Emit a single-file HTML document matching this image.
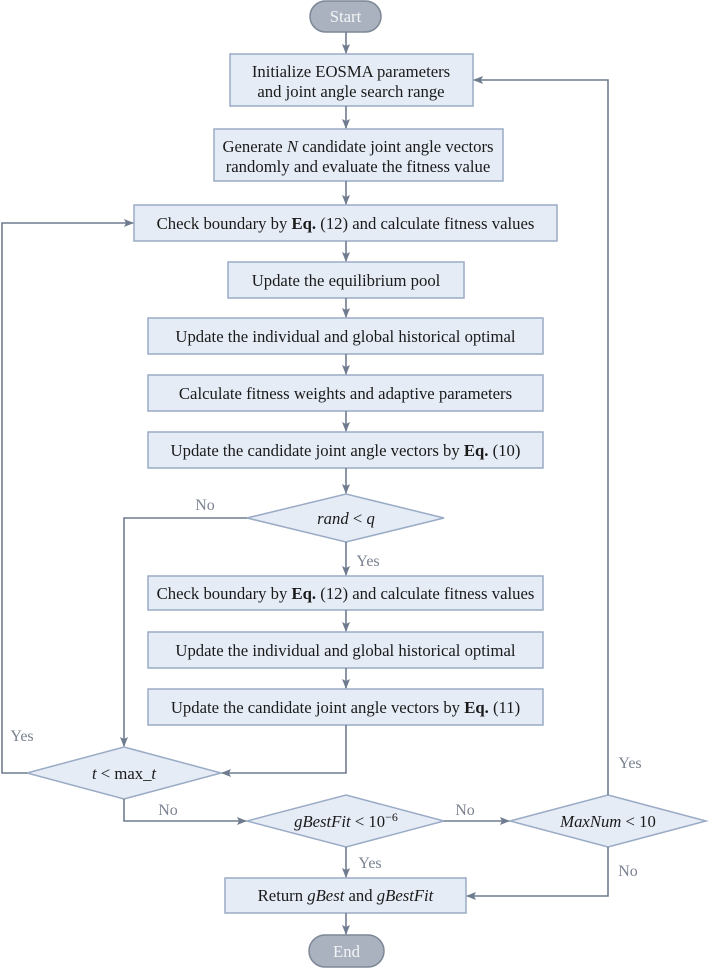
<!DOCTYPE html>
<html><head><meta charset="utf-8"><style>
html,body{margin:0;padding:0;background:#fff}
svg text{font-family:"Liberation Serif",serif;font-size:16.7px;fill:#1a1a1a}
.b{fill:#e6ecf6;stroke:#9aabc5;stroke-width:1.5}
.l{fill:none;stroke:#6f7c8f;stroke-width:1.6}
svg text.lab{fill:#7a8290;font-size:16px}
</style></head><body>
<svg width="709" height="968" viewBox="0 0 709 968" xmlns="http://www.w3.org/2000/svg">
<defs><marker id="a" markerWidth="10" markerHeight="10" refX="9" refY="5" orient="auto" markerUnits="userSpaceOnUse"><path d="M0,1 L10,5 L0,9 L2,5 z" fill="#6f7c8f"/></marker></defs>
<rect x="310" y="1" width="71" height="31" rx="15.5" fill="#a9b2be" stroke="#7d8796" stroke-width="1.5"/>
<text x="345.5" y="22" text-anchor="middle" style="fill:#f4f5f7">Start</text>
<rect class="b" x="230" y="54" width="243" height="52"/>
<text x="351" y="77" text-anchor="middle">Initialize EOSMA parameters</text>
<text x="351" y="97" text-anchor="middle">and joint angle search range</text>
<rect class="b" x="214" y="129" width="289" height="52"/>
<text x="358" y="152" text-anchor="middle">Generate <tspan font-style="italic">N</tspan> candidate joint angle vectors</text>
<text x="358" y="172" text-anchor="middle">randomly and evaluate the fitness value</text>
<rect class="b" x="134" y="205" width="423" height="36"/>
<text x="345.5" y="229" text-anchor="middle">Check boundary by <tspan font-weight="bold">Eq.</tspan> (12) and calculate fitness values</text>
<rect class="b" x="228" y="262" width="236" height="36"/>
<text x="346" y="286" text-anchor="middle">Update the equilibrium pool</text>
<rect class="b" x="148" y="318" width="395" height="36"/>
<text x="345.5" y="342" text-anchor="middle">Update the individual and global historical optimal</text>
<rect class="b" x="148" y="375" width="395" height="36"/>
<text x="345.5" y="399" text-anchor="middle">Calculate fitness weights and adaptive parameters</text>
<rect class="b" x="148" y="432" width="395" height="36"/>
<text x="345.5" y="456" text-anchor="middle">Update the candidate joint angle vectors by <tspan font-weight="bold">Eq.</tspan> (10)</text>
<polygon class="b" points="247,518 346,494 444,518 346,542"/>
<text x="346" y="524" text-anchor="middle" font-style="italic">rand <tspan font-style="normal">&lt;</tspan> q</text>
<rect class="b" x="148" y="576" width="395" height="34"/>
<text x="345.5" y="599" text-anchor="middle">Check boundary by <tspan font-weight="bold">Eq.</tspan> (12) and calculate fitness values</text>
<rect class="b" x="148" y="632" width="395" height="36"/>
<text x="345.5" y="656" text-anchor="middle">Update the individual and global historical optimal</text>
<rect class="b" x="148" y="689" width="395" height="36"/>
<text x="345.5" y="713" text-anchor="middle">Update the candidate joint angle vectors by <tspan font-weight="bold">Eq.</tspan> (11)</text>
<polygon class="b" points="27,773 124,747 221,773 124,799"/>
<text x="124" y="779" text-anchor="middle"><tspan font-style="italic">t</tspan> &lt; max_<tspan font-style="italic">t</tspan></text>
<polygon class="b" points="247,821 346,795 444,821 346,847"/>
<text x="346" y="827" text-anchor="middle"><tspan font-style="italic">gBestFit</tspan> &lt; 10<tspan dy="-6" font-size="12">−6</tspan></text>
<polygon class="b" points="510,821 608,795 706,821 608,847"/>
<text x="608" y="827" text-anchor="middle"><tspan font-style="italic">MaxNum</tspan> &lt; 10</text>
<rect class="b" x="225" y="878" width="241" height="35"/>
<text x="345.5" y="901" text-anchor="middle">Return <tspan font-style="italic">gBest</tspan> and <tspan font-style="italic">gBestFit</tspan></text>
<rect x="309" y="935" width="75" height="32" rx="16" fill="#a9b2be" stroke="#7d8796" stroke-width="1.5"/>
<text x="346.5" y="957" text-anchor="middle" style="fill:#f4f5f7">End</text>
<g class="l" marker-end="url(#a)">
<path d="M346,32 V53"/><path d="M346,106 V128"/><path d="M346,181 V204"/>
<path d="M346,241 V261"/><path d="M346,298 V317"/><path d="M346,354 V374"/>
<path d="M346,411 V431"/><path d="M346,468 V493"/><path d="M346,542 V575"/>
<path d="M346,610 V631"/><path d="M346,668 V688"/>
<path d="M346,725 V773 H222"/>
<path d="M247,518 H124 V746"/>
<path d="M27,773 H2 V223 H133"/>
<path d="M124,799 V821 H246"/>
<path d="M444,821 H509"/>
<path d="M608,795 V80 H474"/>
<path d="M608,847 V896 H467"/>
<path d="M346,847 V877"/><path d="M346,913 V934"/>
</g>
<text class="lab" x="205" y="510" text-anchor="middle">No</text>
<text class="lab" x="368" y="566" text-anchor="middle">Yes</text>
<text class="lab" x="22" y="741" text-anchor="middle">Yes</text>
<text class="lab" x="168" y="815" text-anchor="middle">No</text>
<text class="lab" x="465" y="815" text-anchor="middle">No</text>
<text class="lab" x="370" y="868" text-anchor="middle">Yes</text>
<text class="lab" x="630" y="768" text-anchor="middle">Yes</text>
<text class="lab" x="628" y="876" text-anchor="middle">No</text>
</svg>
</body></html>
